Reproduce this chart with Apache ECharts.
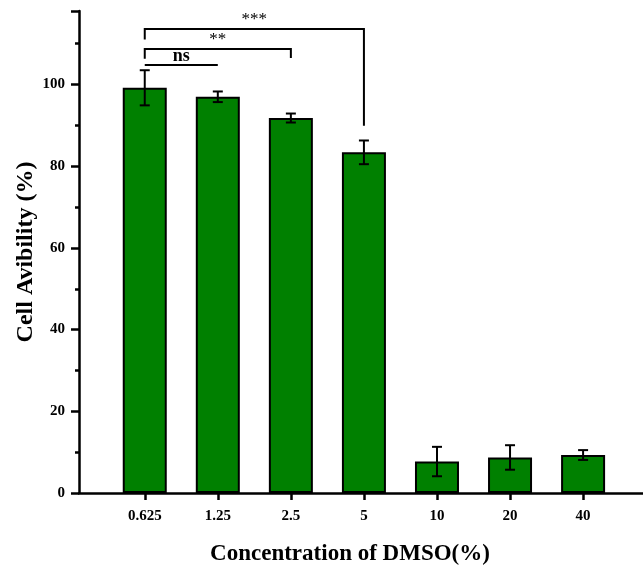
<!DOCTYPE html>
<html>
<head>
<meta charset="utf-8">
<script src="https://cdn.jsdelivr.net/npm/echarts@6/dist/echarts.min.js"></script>
<style>
  html, body { margin: 0; padding: 0; background: #fff; }
  #chart { width: 643px; height: 574px; }
</style>
</head>
<body>
<div id="chart"></div>
<script>
// DMSO concentrations (%), mean viability and error (SD)
const categories = ['0.625', '1.25', '2.5', '5', '10', '20', '40'];
const viability = [99.2, 97.0, 91.8, 83.4, 7.7, 8.7, 9.3];
const errors = [4.3, 1.3, 1.1, 2.9, 3.6, 3.0, 1.2];

// significance brackets: from / to category index (1-based), line level, leg ends
const sigFrom = [1, 1, 1];
const sigTo = [2, 3, 4];
const sigLevel = [104.8, 108.7, 113.6];
const sigLeftEnd = [104.8, 106.3, 111.0];
const sigRightEnd = [104.8, 106.5, 89.9];
const sigLabels = ['ns', '**', '***'];

const FONT = '"Liberation Serif", "Times New Roman", serif';
const positions = categories.map((_, i) => i + 1);

const barData = positions.map((x, i) => [x, viability[i]]);
const errData = positions.map((x, i) => [x, viability[i] - errors[i], viability[i] + errors[i]]);
const sigData = sigFrom.map((f, i) => [f, sigTo[i], sigLevel[i], sigLeftEnd[i], sigRightEnd[i], i]);

const chart = echarts.init(document.getElementById('chart'), null, { renderer: 'canvas' });

chart.setOption({
  animation: false,
  backgroundColor: '#ffffff',
  grid: { left: 79, right: 0, top: 11, bottom: 81, outerBoundsMode: 'none', containLabel: false },
  xAxis: {
    type: 'value',
    min: 0.1,
    max: 7.82,
    axisLine: { show: true, onZero: false, lineStyle: { color: '#000', width: 2.5 } },
    axisTick: { show: true, customValues: positions, length: 7, lineStyle: { color: '#000', width: 2.5 } },
    axisLabel: {
      customValues: positions,
      margin: 16,
      fontFamily: FONT, fontWeight: 'bold', fontSize: 15, color: '#000',
      formatter: (v) => categories[Math.round(v) - 1] || ''
    },
    splitLine: { show: false }
  },
  yAxis: {
    type: 'value',
    min: 0,
    max: 118,
    interval: 20,
    axisLine: { show: true, lineStyle: { color: '#000', width: 2.5 } },
    axisTick: { show: true, length: 8, lineStyle: { color: '#000', width: 2.5 } },
    minorTick: { show: true, splitNumber: 2, length: 4, lineStyle: { color: '#000', width: 2.5 } },
    axisLabel: {
      margin: 14,
      fontFamily: FONT, fontWeight: 'bold', fontSize: 15, color: '#000',
      showMaxLabel: false
    },
    splitLine: { show: false }
  },
  graphic: [
    {
      type: 'text',
      x: 26,
      y: 252,
      rotation: Math.PI / 2,
      style: {
        text: 'Cell Avibility (%)',
        fontFamily: FONT, fontWeight: 'bold', fontSize: 24, fill: '#000',
        align: 'center', verticalAlign: 'middle'
      }
    },
    {
      type: 'text',
      x: 350,
      y: 554,
      style: {
        text: 'Concentration of DMSO(%)',
        fontFamily: FONT, fontWeight: 'bold', fontSize: 23, fill: '#000',
        align: 'center', verticalAlign: 'middle'
      }
    }
  ],
  series: [
    {
      type: 'bar',
      data: barData,
      barWidth: 44,
      itemStyle: { color: '#008000', borderColor: '#000', borderWidth: 2 }
    },
    {
      type: 'custom',
      data: errData,
      z: 5,
      renderItem(params, api) {
        const top = api.coord([api.value(0), api.value(2)]);
        const bot = api.coord([api.value(0), api.value(1)]);
        const cap = 5;
        const style = { stroke: '#000', lineWidth: 2 };
        return {
          type: 'group',
          children: [
            { type: 'line', shape: { x1: top[0], y1: top[1], x2: bot[0], y2: bot[1] }, style },
            { type: 'line', shape: { x1: top[0] - cap, y1: top[1], x2: top[0] + cap, y2: top[1] }, style },
            { type: 'line', shape: { x1: bot[0] - cap, y1: bot[1], x2: bot[0] + cap, y2: bot[1] }, style }
          ]
        };
      }
    },
    {
      type: 'custom',
      data: sigData,
      z: 6,
      renderItem(params, api) {
        const a = api.coord([api.value(0), api.value(2)]);
        const b = api.coord([api.value(1), api.value(2)]);
        const la = api.coord([api.value(0), api.value(3)]);
        const rb = api.coord([api.value(1), api.value(4)]);
        const label = sigLabels[api.value(5)];
        const isNs = label === 'ns';
        return {
          type: 'group',
          children: [
            {
              type: 'polyline',
              shape: { points: [[la[0], la[1]], [a[0], a[1]], [b[0], b[1]], [rb[0], rb[1]]] },
              style: { stroke: '#000', lineWidth: 2, fill: null }
            },
            {
              type: 'text',
              x: (a[0] + b[0]) / 2,
              y: a[1] - (isNs ? 9 : 9),
              style: {
                text: label,
                fontFamily: FONT,
                fontWeight: isNs ? 'bold' : 'normal',
                fontSize: isNs ? 18 : 17,
                fill: '#000',
                align: 'center',
                verticalAlign: 'middle'
              }
            }
          ]
        };
      }
    }
  ]
});
</script>
</body>
</html>
